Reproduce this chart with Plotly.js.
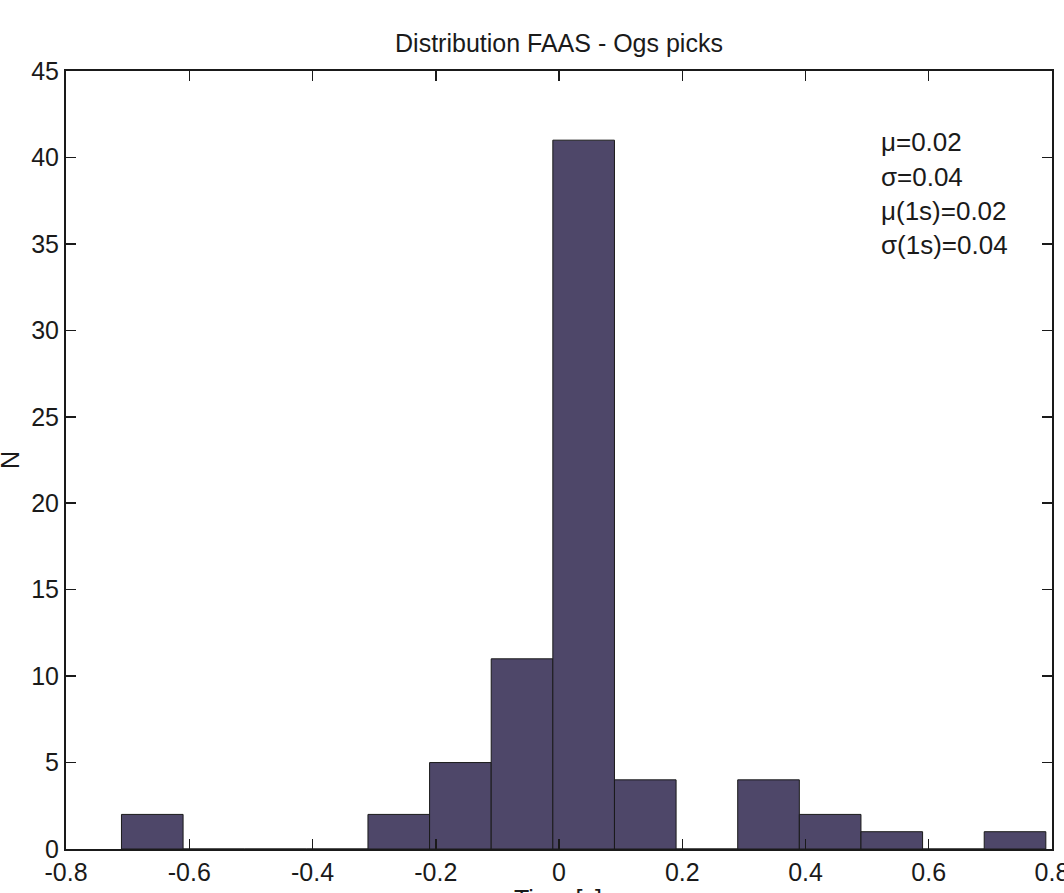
<!DOCTYPE html>
<html>
<head>
<meta charset="utf-8">
<script src="https://cdn.plot.ly/plotly-3.0.1.min.js"></script>
<style>html,body{margin:0;padding:0;background:#fff;}#chart{width:1064px;height:893px;}</style>
</head>
<body>
<div id="chart"></div>
<script>
// Histogram bin centres (s) and counts
const binCenters = [-0.66, -0.56, -0.46, -0.36, -0.26, -0.16, -0.06, 0.04, 0.14, 0.24, 0.34, 0.44, 0.54, 0.64, 0.74];
const counts     = [2, 0, 0, 0, 2, 5, 11, 41, 4, 0, 4, 2, 1, 0, 1];
const binWidth = 0.1;
const xTicks = [-0.8, -0.6, -0.4, -0.2, 0, 0.2, 0.4, 0.6, 0.8];
const xTickText = ['-0.8', '-0.6', '-0.4', '-0.2', '0', '0.2', '0.4', '0.6', '0.8'];
const yTicks = [0, 5, 10, 15, 20, 25, 30, 35, 40, 45];
const statsLines = ['\u03bc=0.02', '\u03c3=0.04', '\u03bc(1s)=0.02', '\u03c3(1s)=0.04'];
const xTitle = 'Time [s]';
const yTitle = 'N';

const font = 'Liberation Sans, Arial, Helvetica, sans-serif';
const L = 66, T = 71, W = 986, H = 778;
const px = v => (v - L) / W;
const py = v => 1 - (v - T) / H;

const trace = {
  type: 'bar',
  x: binCenters,
  y: counts,
  width: binCenters.map(() => binWidth),
  marker: { color: '#4E4769', line: { color: '#1a1a1a', width: 1 } },
  hoverinfo: 'x+y'
};

const annotations = statsLines.map((t, i) => ({
  text: t,
  xref: 'paper', yref: 'paper',
  x: px(879), xanchor: 'left',
  y: py(142 + i * 34.5), yanchor: 'middle',
  showarrow: false,
  font: { family: font, size: 26, color: '#1a1a1a' }
}));
// axis titles (partly outside the canvas, as in the reference)
annotations.push({
  text: xTitle, xref: 'paper', yref: 'paper', x: px(558), y: py(899),
  xanchor: 'center', yanchor: 'middle', showarrow: false,
  font: { family: font, size: 25, color: '#1a1a1a' }
});
annotations.push({
  text: yTitle, xref: 'paper', yref: 'paper', x: px(10), y: py(460),
  xanchor: 'center', yanchor: 'middle', showarrow: false, textangle: -90,
  font: { family: font, size: 25, color: '#1a1a1a' }
});

const axisCommon = {
  showline: true, linecolor: '#1a1a1a', linewidth: 2,
  mirror: 'ticks', ticks: 'inside', ticklen: 10, tickwidth: 1.5, tickcolor: '#1a1a1a',
  showgrid: false, zeroline: false, ticklabeloverflow: 'allow',
  tickfont: { family: font, size: 25, color: '#1a1a1a' }
};

const layout = {
  width: 1064, height: 893,
  margin: { l: L, r: 1064 - L - W, t: T, b: 893 - T - H },
  paper_bgcolor: '#ffffff', plot_bgcolor: '#ffffff',
  showlegend: false,
  bargap: 0,
  title: { text: 'Distribution FAAS - Ogs picks', font: { family: font, size: 25, color: '#1a1a1a' },
           x: 0.5, xref: 'paper', xanchor: 'center', y: 1 - 43 / 893, yanchor: 'middle' },
  xaxis: Object.assign({}, axisCommon, {
    range: [-0.8, 0.80001], tickvals: xTicks, ticktext: xTickText
  }),
  yaxis: Object.assign({}, axisCommon, {
    range: [0, 45], tickvals: yTicks
  }),
  annotations: annotations
};

Plotly.newPlot('chart', [trace], layout, { displayModeBar: false, staticPlot: true });
</script>
</body>
</html>
